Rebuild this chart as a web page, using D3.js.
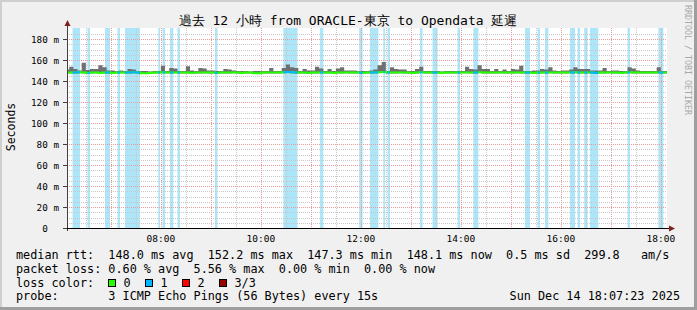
<!DOCTYPE html>
<html>
<head>
<meta charset="utf-8">
<script src="https://cdn.jsdelivr.net/npm/d3@7"></script>
<style>
  body { margin: 0; background: #f0f0f0; }
  svg text { font-family: "DejaVu Sans Mono", monospace; white-space: pre; }
</style>
</head>
<body>
<div id="chart"></div>
<script>
"use strict"

// ---------- data ----------
let titleText = "過去 12 小時 from ORACLE-東京 to Opendata 延遲";
let rangeStart = [6, 7, 23];   // 06:07:23
let rangeEnd = [18, 7, 23];    // 18:07:23
let firstSample = [6, 5];      // samples every 5 minutes from 06:05
let stepMinutes = 5;

// highest ping in each 5 minute sample (ms)
let maxRtt = [
  151, 153.5, 151.5, 150, 157.5, 150.5, 151.5, 151.5, 155, 153,
  150, 150, 149.5, 150, 149.5, 151.5, 151, 149.5, 149.5, 149.5,
  149, 149.5, 149.5, 154.5, 149.5, 152.5, 152, 149.5, 149.5, 154,
  150, 149.5, 152.5, 152, 150, 150, 149.5, 149.5, 151.5, 151,
  150, 149.5, 149.5, 149.5, 149, 149.5, 149.5, 149.5, 149.5, 152.5,
  149.5, 149.5, 152.5, 155.7, 153, 152.5, 149.5, 151.5, 150, 150,
  153.5, 152, 149.5, 151.5, 149.5, 152, 153, 150, 150, 150,
  149.5, 149.5, 149.5, 150, 151, 155, 158, 149.5, 153, 151.5,
  151, 151, 149.5, 149.5, 151.5, 153.5, 149.5, 149.5, 149.5, 149.5,
  149, 149.5, 149.5, 149.5, 149.5, 149.5, 153.5, 151.5, 151, 155,
  151.5, 151.5, 149.5, 151.5, 149.5, 151, 149.5, 151.5, 151, 154.5,
  149.5, 149.5, 150, 150, 151.5, 151, 153, 150, 149.5, 150,
  150, 151, 153, 151.5, 151.5, 151.5, 150, 150, 150, 152.5,
  149.5, 150, 150, 149.5, 149.5, 153, 152, 150, 149.5, 149.5,
  149.5, 149.5, 153, 149.5, 149.5
];

// median ping of each sample (ms)
let medianRtt = [
  148.2, 148.0, 148.0, 148.3, 148.0, 147.6, 148.0, 148.2, 147.6, 148.0,
  148.0, 147.6, 148.0, 148.2, 148.0, 148.0, 148.3, 148.0, 147.5, 147.5,
  147.6, 148.0, 148.0, 148.3, 148.0, 148.0, 148.2, 148.0, 148.0, 148.0,
  147.6, 148.0, 148.0, 148.2, 148.0, 148.0, 147.6, 148.0, 148.0, 148.0,
  148.2, 148.0, 147.6, 148.0, 148.0, 147.5, 147.5, 148.0, 148.0, 148.0,
  148.0, 148.0, 148.3, 148.6, 148.3, 148.0, 148.0, 148.0, 147.6, 148.0,
  148.0, 148.2, 148.0, 148.0, 147.6, 148.0, 148.0, 148.2, 148.0, 148.0,
  148.0, 147.6, 148.0, 148.0, 148.2, 148.4, 148.6, 148.0, 148.0, 148.0,
  148.2, 148.0, 148.0, 147.6, 148.0, 148.4, 148.0, 148.0, 148.0, 148.0,
  147.6, 148.0, 148.0, 148.0, 148.0, 148.2, 148.2, 148.0, 148.0, 148.4,
  148.0, 148.0, 148.0, 148.0, 148.2, 148.0, 148.0, 148.0, 148.2, 148.0,
  148.0, 148.0, 147.6, 148.0, 148.0, 148.0, 148.2, 148.0, 148.0, 148.0,
  148.0, 148.2, 148.3, 148.0, 148.0, 148.0, 148.0, 147.6, 148.0, 148.0,
  148.2, 148.0, 148.0, 147.6, 148.0, 148.3, 148.0, 148.0, 148.0, 148.0,
  148.0, 148.0, 148.0, 148.0, 148.0
];

// periods with 1 lost ping
let lossPeriods = [
  ["06:14", "06:23"], ["06:32", "06:35"], ["06:53", "06:59"], ["07:08", "07:11"],
  ["07:17", "07:35"], ["07:57", "07:59"], ["08:02", "08:05"], ["08:11", "08:15"],
  ["08:20", "08:23"], ["09:05", "09:08"], ["10:27", "10:44"], ["11:11", "11:15"],
  ["11:58", "12:02"], ["12:11", "12:21"], ["12:27", "12:29"], ["12:32", "12:35"],
  ["13:11", "13:14"], ["13:26", "13:32"], ["13:56", "13:59"], ["14:15", "14:21"],
  ["15:17", "15:23"], ["15:32", "15:35"], ["15:41", "15:45"], ["16:11", "16:17"],
  ["16:20", "16:23"], ["16:28", "16:32"], ["16:35", "16:45"], ["17:20", "17:23"],
  ["17:57", "18:03"]
];

let yTicks = [0, 20, 40, 60, 80, 100, 120, 140, 160, 180];
let rttStats = ["148.0", "152.2", "147.3", "148.1"];
let statNames = ["avg", "max", "min", "now"];
let rttSd = "0.5";
let rttAms = "299.8";
let lossStats = ["0.60", "5.56", "0.00", "0.00"];
let lossLabels = ["0", "1", "2", "3/3"];
let probeText = "3 ICMP Echo Pings (56 Bytes) every 15s";
let stampText = "Sun Dec 14 18:07:23 2025";

// ---------- helpers ----------
function at(h, m, s) {
    return new Date(2025, 11, 14, h, m, s || 0);
}
function parseHM(str) {
    let p = str.split(":");
    return at(+p[0], +p[1]);
}

let samples = maxRtt.map(function (v, i) {
    return {
        time: d3.timeMinute.offset(at(firstSample[0], firstSample[1]), i * stepMinutes),
        max: v,
        median: medianRtt[i]
    };
});
// extra point so the last step gets its width
samples.push({
    time: d3.timeMinute.offset(samples[samples.length - 1].time, stepMinutes),
    max: maxRtt[maxRtt.length - 1],
    median: medianRtt[medianRtt.length - 1]
});

// ---------- layout ----------
let width = 697, height = 310;
let plotLeft = 67, plotRight = 667, plotTop = 28, plotBottom = 228;
let monoW = 5.6; // width of one tick label char

let svg = d3.select("#chart")
    .append("svg")
    .attr("width", width)
    .attr("height", height);

// background and 3d border
svg.append("rect").attr("width", width).attr("height", height).attr("fill", "#f0f0f0");
svg.append("path").attr("d", "M0,0H697V2H0Z M0,0H2V310H0Z").attr("fill", "#cfcfcf");
svg.append("path").attr("d", "M0,307H697V310H0Z M694,0H697V310H694Z").attr("fill", "#9e9e9e");

svg.append("rect")
    .attr("x", plotLeft).attr("y", plotTop)
    .attr("width", plotRight - plotLeft).attr("height", plotBottom - plotTop)
    .attr("fill", "#ffffff");

let x = d3.scaleTime()
    .domain([at(rangeStart[0], rangeStart[1], rangeStart[2]), at(rangeEnd[0], rangeEnd[1], rangeEnd[2])])
    .range([plotLeft, plotRight]);

let y = d3.scaleLinear()
    .domain([0, 190.5])
    .range([plotBottom, plotTop]);

svg.append("clipPath").attr("id", "plot")
    .append("rect")
    .attr("x", plotLeft).attr("y", plotTop)
    .attr("width", plotRight - plotLeft).attr("height", plotBottom - plotTop);

// loss bands
svg.append("clipPath").attr("id", "loss")
    .selectAll("rect")
    .data(lossPeriods)
    .enter()
    .append("rect")
    .attr("x", function (d) { return x(parseHM(d[0])); })
    .attr("width", function (d) { return x(parseHM(d[1])) - x(parseHM(d[0])); })
    .attr("y", plotTop)
    .attr("height", plotBottom - plotTop);

svg.append("g")
    .attr("clip-path", "url(#plot)")
    .selectAll("rect")
    .data(lossPeriods)
    .enter()
    .append("rect")
    .attr("x", function (d) { return x(parseHM(d[0])); })
    .attr("width", function (d) { return x(parseHM(d[1])) - x(parseHM(d[0])); })
    .attr("y", plotTop)
    .attr("height", plotBottom - plotTop)
    .attr("fill", "#ade6f9");

// grid
let grid = svg.append("g").attr("shape-rendering", "crispEdges");
let minorY = d3.range(5, 190, 5).filter(function (v) { return v % 20 !== 0; });
grid.selectAll(".ymin")
    .data(minorY)
    .enter()
    .append("line")
    .attr("x1", plotLeft).attr("x2", plotRight)
    .attr("y1", function (d) { return Math.round(y(d)) + 0.5; })
    .attr("y2", function (d) { return Math.round(y(d)) + 0.5; })
    .attr("stroke", "#c8c8c8")
    .attr("stroke-dasharray", "1,1");

let halfHours = d3.timeMinute.every(30).range(x.domain()[0], x.domain()[1]);
grid.selectAll(".xmin")
    .data(halfHours.filter(function (d) { return d.getMinutes() !== 0; }))
    .enter()
    .append("line")
    .attr("x1", function (d) { return Math.round(x(d)) + 0.5; })
    .attr("x2", function (d) { return Math.round(x(d)) + 0.5; })
    .attr("y1", plotTop).attr("y2", plotBottom)
    .attr("stroke", "#c8c8c8")
    .attr("stroke-dasharray", "1,1");

grid.selectAll(".ymaj")
    .data(yTicks.slice(1))
    .enter()
    .append("line")
    .attr("x1", plotLeft).attr("x2", plotRight)
    .attr("y1", function (d) { return Math.round(y(d)) + 0.5; })
    .attr("y2", function (d) { return Math.round(y(d)) + 0.5; })
    .attr("stroke", "#e99a9a")
    .attr("stroke-dasharray", "1,1");

let hours = d3.timeHour.range(x.domain()[0], x.domain()[1]);
grid.selectAll(".xmaj")
    .data(hours)
    .enter()
    .append("line")
    .attr("x1", function (d) { return Math.round(x(d)) + 0.5; })
    .attr("x2", function (d) { return Math.round(x(d)) + 0.5; })
    .attr("y1", plotTop).attr("y2", plotBottom)
    .attr("stroke", "#e99a9a")
    .attr("stroke-dasharray", "1,1");

// smoke
let smoke = d3.area()
    .curve(d3.curveStepAfter)
    .x(function (d) { return x(d.time); })
    .y0(function (d) { return y(d.median - 0.8); })
    .y1(function (d) { return y(d.max); });

svg.append("path")
    .datum(samples)
    .attr("clip-path", "url(#plot)")
    .attr("d", smoke)
    .attr("fill", "#707070");

// median line, green, blue where a ping was lost
let medianLine = d3.line()
    .curve(d3.curveStepAfter)
    .x(function (d) { return x(d.time); })
    .y(function (d) { return y(d.median); });

svg.append("path")
    .datum(samples)
    .attr("clip-path", "url(#plot)")
    .attr("d", medianLine)
    .attr("fill", "none")
    .attr("stroke", "#26ff00")
    .attr("stroke-width", 2);

svg.append("g")
    .attr("clip-path", "url(#loss)")
    .append("path")
    .datum(samples)
    .attr("d", medianLine)
    .attr("fill", "none")
    .attr("stroke", "#00b8ff")
    .attr("stroke-width", 2);

// axes
svg.append("line")
    .attr("x1", plotLeft + 0.5).attr("x2", plotLeft + 0.5)
    .attr("y1", 24).attr("y2", plotBottom + 3)
    .attr("stroke", "#404040");
svg.append("line")
    .attr("x1", plotLeft - 4).attr("x2", plotRight + 4)
    .attr("y1", plotBottom + 0.5).attr("y2", plotBottom + 0.5)
    .attr("stroke", "#000000");
svg.append("path").attr("d", "M67.5,20L64.5,26H70.5Z").attr("fill", "#7f1f1f");
svg.append("path").attr("d", "M675,228.5L669,225.5V231.5Z").attr("fill", "#7f1f1f");

svg.selectAll(".ytick")
    .data(yTicks)
    .enter()
    .append("line")
    .attr("x1", plotLeft - 4).attr("x2", plotLeft)
    .attr("y1", function (d) { return Math.round(y(d)) + 0.5; })
    .attr("y2", function (d) { return Math.round(y(d)) + 0.5; })
    .attr("stroke", "#404040");

svg.selectAll(".ylabel")
    .data(yTicks)
    .enter()
    .append("text")
    .attr("x", function (d) { return d === 0 ? 59 - 2 * monoW : 59; })
    .attr("y", function (d) { return y(d) + 3.5; })
    .attr("text-anchor", "end")
    .style("font-size", "9.3px")
    .text(function (d) { return d === 0 ? "0" : d + " m"; });

svg.selectAll(".xlabel")
    .data(hours.filter(function (d) { return d.getHours() % 2 === 0; }))
    .enter()
    .append("text")
    .attr("x", function (d) { return x(d); })
    .attr("y", 242)
    .attr("text-anchor", "middle")
    .style("font-size", "9.5px")
    .text(d3.timeFormat("%H:%M"));

// titles
svg.append("text")
    .attr("x", 348).attr("y", 25)
    .attr("text-anchor", "middle")
    .style("font-size", "13px")
    .text(titleText);

svg.append("text")
    .attr("transform", "translate(15,127) rotate(-90)")
    .attr("text-anchor", "middle")
    .style("font-size", "11.5px")
    .text("Seconds");

svg.append("text")
    .attr("transform", "translate(685,5) rotate(90)")
    .style("font-size", "8.3px")
    .attr("fill", "#a8a8a8")
    .text("RRDTOOL / TOBI OETIKER");

// legend, monospace lines like rrdtool's gprint
let legend = svg.append("g").style("font-size", "11.8px");
function legendText(str, lx, ly, anchor) {
    legend.append("text")
        .attr("x", lx).attr("y", ly)
        .attr("xml:space", "preserve")
        .attr("text-anchor", anchor || "start")
        .text(str);
}

let rttLine = "median rtt:  " + rttStats.map(function (v, i) {
    return v + " ms " + statNames[i];
}).join("  ") + "  " + rttSd + " ms sd  " + rttAms + "   am/s";
legendText(rttLine, 16, 259);

let lossLine = "packet loss: " + lossStats.map(function (v, i) {
    return v + " % " + statNames[i];
}).join("  ");
legendText(lossLine, 16, 272.5);

let lossColors = ["#26ff00", "#00b8ff", "#ff0000", "#990000"];
let boxX = [108.5, 145.5, 182.5, 219.5];
legendText("loss color:", 16, 286.5);
lossLabels.forEach(function (v, i) {
    legend.append("rect")
        .attr("x", boxX[i]).attr("y", 279.5)
        .attr("width", 7).attr("height", 7)
        .attr("fill", lossColors[i])
        .attr("stroke", "#000");
    legendText(v, boxX[i] + 15, 286.5);
});

legendText("probe:       " + probeText, 16, 300);
legendText(stampText, 680, 300, "end");
</script>
</body>
</html>
